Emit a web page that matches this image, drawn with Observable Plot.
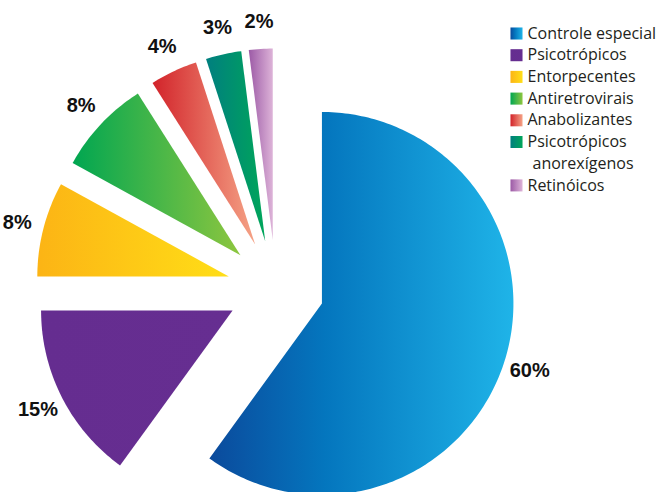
<!DOCTYPE html>
<html><head><meta charset="utf-8">
<script src="https://cdn.jsdelivr.net/npm/d3@7"></script>
<script src="https://cdn.jsdelivr.net/npm/@observablehq/plot@0.6"></script>
<style>
  html,body{margin:0;padding:0;background:#fff;}
  #chart{width:664px;height:492px;}
</style>
</head><body>
<div id="chart"></div>
<script>
// ---- data ----
const categories = ["Controle especial", "Psicotrópicos", "Entorpecentes", "Antiretrovirais", "Anabolizantes", "Psicotrópicos anorexígenos", "Retinóicos"];
const values = [60, 15, 8, 8, 4, 3, 2];
const valueLabels = ["60%", "15%", "8%", "8%", "4%", "3%", "2%"];
const legendLines = [["Controle especial"], ["Psicotrópicos"], ["Entorpecentes"], ["Antiretrovirais"], ["Anabolizantes"], ["Psicotrópicos", "anorexígenos"], ["Retinóicos"]];

// ---- style: horizontal gradient stops per slice ----
const gradientStops = [
  [[0, "#0b4a9c"], [0.38, "#0476be"], [1, "#1fb4e8"]],
  [[0, "#652d90"], [1, "#662e91"]],
  [[0, "#fcb415"], [1, "#ffde17"]],
  [[0, "#00a651"], [1, "#8dc63f"]],
  [[0, "#d2232a"], [1, "#f5a386"]],
  [[0, "#007f7f"], [1, "#00a65a"]],
  [[0, "#9c5aa6"], [1, "#ddb3d8"]]
];

// ---- layout ----
const W = 664, H = 492;
const PX = 191.5;              // pixels per unit radius
const CX = 275.3, CY = 288;    // pie centre in pixels
const explode = 48.5 / PX;
const labelR = 1.394;
const toX = px => (px - CX) / PX;
const toY = py => (CY - py) / PX;

const pie = d3.pie().sort(null).value(d => d.value).startAngle(0).endAngle(2 * Math.PI);
const table = categories.map((c, i) => ({category: c, value: values[i], label: valueLabels[i], i}));
const arcs = pie(table);

const slices = arcs.map(a => {
  const mid = (a.startAngle + a.endAngle) / 2;
  const ox = explode * Math.sin(mid), oy = explode * Math.cos(mid);
  const n = Math.max(6, Math.ceil((a.endAngle - a.startAngle) * 180 / Math.PI));
  const pts = [{x: ox, y: oy}];
  for (let k = 0; k <= n; k++) {
    const t = a.startAngle + (a.endAngle - a.startAngle) * k / n;
    pts.push({x: ox + Math.sin(t), y: oy + Math.cos(t)});
  }
  pts.push({x: ox, y: oy});
  return {i: a.data.i, pts, mid};
});

const labelData = arcs.map(a => {
  const mid = (a.startAngle + a.endAngle) / 2;
  return {x: labelR * Math.sin(mid), y: labelR * Math.cos(mid), text: a.data.label};
});

// legend rows
const legendRows = [];
let line = 0;
legendLines.forEach((lines, i) => {
  lines.forEach((t, j) => {
    legendRows.push({i, j, text: t, line});
    line++;
  });
});
const rowY = l => 33 + 21.7 * l;
const swatches = legendRows.filter(r => r.j === 0).map(r => ({x: toX(516), y: toY(rowY(r.line)), i: r.i}));
const legendText = legendRows.map(r => ({x: toX(r.j === 0 ? 527 : 532), y: toY(rowY(r.line)), text: r.text}));

const marks = [];
slices.forEach(s => {
  marks.push(Plot.line(s.pts, {x: "x", y: "y", fill: `url(#grad${s.i})`, stroke: "none", curve: "linear"}));
});
marks.push(Plot.text(labelData, {x: "x", y: "y", text: "text", fontSize: 20, fontWeight: "bold", fontFamily: "Liberation Sans, Arial, sans-serif", fill: "#111", textAnchor: "middle"}));
swatches.forEach(s => {
  marks.push(Plot.dot([s], {x: "x", y: "y", symbol: "square", r: 6.8, fill: `url(#grad${s.i})`, stroke: "none"}));
});
marks.push(Plot.text(legendText, {x: "x", y: "y", text: "text", textAnchor: "start", fontSize: 16, fontFamily: "Open Sans, Noto Sans, sans-serif", fill: "#231f20"}));

const svg = Plot.plot({
  width: W, height: H, margin: 0,
  x: {domain: [toX(0), toX(W)], axis: null},
  y: {domain: [toY(H), toY(0)], axis: null},
  style: {background: "#fff", overflow: "visible"},
  marks
});

const defs = d3.select(svg).insert("defs", ":first-child");
gradientStops.forEach((stops, i) => {
  const g = defs.append("linearGradient").attr("id", `grad${i}`).attr("x1", "0").attr("y1", "0").attr("x2", "1").attr("y2", "0");
  stops.forEach(([o, c]) => g.append("stop").attr("offset", o).attr("stop-color", c));
});

document.getElementById("chart").appendChild(svg);
</script>
</body></html>
